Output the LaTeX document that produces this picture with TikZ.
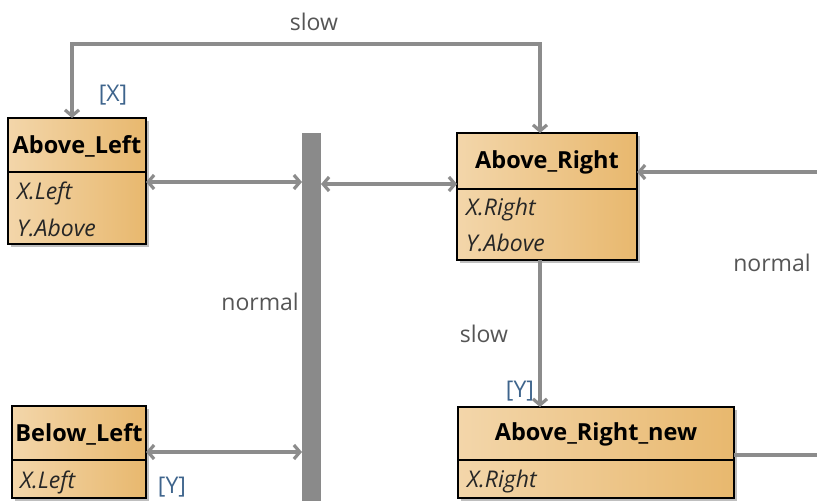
\documentclass[tikz,border=0pt]{standalone}
\usepackage{fontspec}
\setmainfont{Open Sans}
\usetikzlibrary{arrows.meta,calc,shadows}
\definecolor{boxL}{RGB}{243,214,170}
\definecolor{boxR}{RGB}{232,184,110}
\definecolor{conn}{RGB}{140,140,140}
\definecolor{lbl}{RGB}{85,85,85}
\definecolor{role}{RGB}{62,100,140}
\definecolor{barc}{RGB}{138,138,138}
\begin{document}
\begin{tikzpicture}[x=1pt,y=-1pt,
  box/.style={draw=black, line width=1.6pt, left color=boxL, right color=boxR,
    inner sep=0pt, outer sep=0pt,
    drop shadow={shadow xshift=3pt, shadow yshift=-3pt, opacity=0.25, fill=black}},
  sep/.style={draw=black, line width=1.6pt},
  title/.style={font=\fontsize{23.5}{28}\selectfont\bfseries, inner sep=0pt},
  attr/.style={font=\fontsize{23}{28}\selectfont\itshape, anchor=west, inner sep=0pt, text=black!85},
  conn/.style={draw=conn, line width=3.2pt, >={Straight Barb[length=6pt,width=14pt]}},
  lab/.style={font=\fontsize{23}{28}\selectfont, text=lbl, inner sep=0pt},
  rolelab/.style={font=\fontsize{23}{28}\selectfont, text=role, inner sep=0pt}]
\useasboundingbox (0,0) rectangle (817,501);

% bar
\node[fill=barc, minimum width=19pt, minimum height=368pt, inner sep=0pt, outer sep=0pt] (bar) at (311.5,317) {};

% boxes
\node[box, minimum width=138pt, minimum height=126pt] (AL) at (77,181) {};
\node[box, minimum width=180pt, minimum height=127pt] (AR) at (547,196.5) {};
\node[box, minimum width=276pt, minimum height=91pt] (ARN) at (596,452.5) {};
\node[box, minimum width=134pt, minimum height=92pt] (BL) at (79,452) {};

% separators
\draw[sep] (AL.west |- 0,172) -- (AL.east |- 0,172);
\draw[sep] (AR.west |- 0,189) -- (AR.east |- 0,189);
\draw[sep] (ARN.west |- 0,460) -- (ARN.east |- 0,460);
\draw[sep] (BL.west |- 0,460) -- (BL.east |- 0,460);

% titles
\node[title] (ALt) at (AL.center |- 0,146) {Above\_Left};
\node[title] (ARt) at (AR.center |- 0,162) {Above\_Right};
\node[title] (ARNt) at (ARN.center |- 0,434) {Above\_Right\_new};
\node[title] (BLt) at (BL.center |- 0,434) {Below\_Left};

% attributes
\node[attr] (ALa) at (17,193) {X.Left};
\node[attr] (ALb) at (17,228) {Y.Above};
\node[attr] (ARa) at (466,210) {X.Right};
\node[attr] (ARb) at (466,243) {Y.Above};
\node[attr] (ARNa) at (467,482) {X.Right};
\node[attr] (BLa) at (20,482) {X.Left};

% free ends
\coordinate (rtop) at (817,172);
\coordinate (rbot) at (817,455);

% connectors
\draw[conn,<->] (AL.east |- 0,182) -- (bar.west |- 0,182);
\draw[conn,<->] (bar.east |- 0,184) -- (AR.west |- 0,184);
\draw[conn,<->] (BL.east |- 0,452) -- (bar.west |- 0,452);
\draw[conn,<->] (AR.north -| 540,0) -- (540,44) -- (72,44) -- (AL.north -| 72,0);
\draw[conn,->] (rtop) -- (AR.east |- rtop);
\draw[conn,->] (AR.south -| 540,0) -- (ARN.north -| 540,0);
\draw[conn] (ARN.east |- rbot) -- (rbot);

% labels
\node[lab] (l1) at (314,22) {slow};
\node[rolelab] (l2) at (113,95) {[X]};
\node[lab] (l3) at (772,263) {normal};
\node[lab] (l4) at (484,334) {slow};
\node[rolelab] (l5) at (520,391) {[Y]};
\node[lab, anchor=east] (l6) at (299,302) {normal};
\node[rolelab] (l7) at (172,487) {[Y]};
\end{tikzpicture}
\end{document}
